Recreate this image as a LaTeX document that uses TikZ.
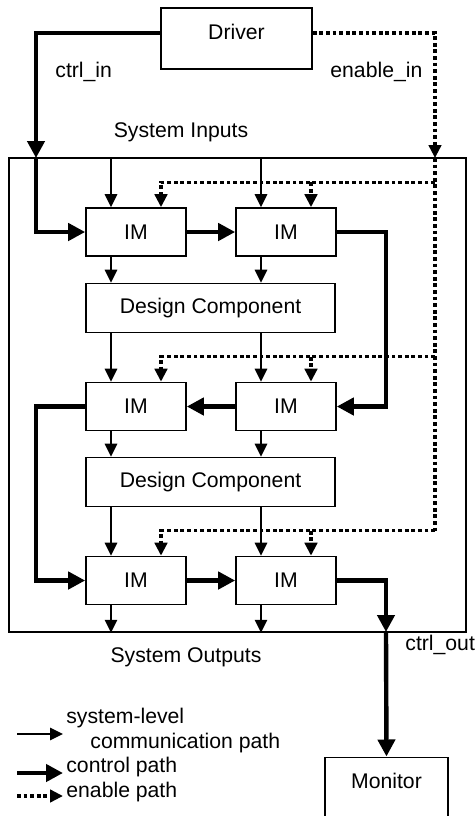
\documentclass[tikz,border=0pt]{standalone}
\usepackage{fontspec}
\setmainfont{Liberation Sans}
\usetikzlibrary{arrows.meta,calc}
\begin{document}
\begin{tikzpicture}[x=0.5pt,y=-0.5pt,
  font=\fontsize{10.6pt}{12.7pt}\selectfont,
  box/.style={draw, line width=0.8pt, inner sep=0pt},
  bigbox/.style={box, text height=15.5pt, text depth=15pt, inner ysep=0pt},
  imbox/.style={box, minimum width=50pt, minimum height=24pt},
  dcbox/.style={box, minimum width=124.5pt, minimum height=24.5pt},
  thinarr/.style={line width=0.8pt, -{Triangle[length=6.5pt,width=6.2pt]}},
  ctrlarr/.style={line width=2.2pt, -{Triangle[length=8.5pt,width=8.5pt]}},
  dotline/.style={line width=1.7pt, dash pattern=on 1.9pt off 1.4pt},
  enabarr/.style={dotline, -{Triangle[length=6.5pt,width=6.2pt]}},
  lbl/.style={inner sep=0pt}]
\useasboundingbox (0,0) rectangle (476,816);

% boxes
\node[bigbox, minimum width=75.5pt] (Driver) at (236.5,38.5) {Driver};
\node[box, minimum width=228.5pt, minimum height=237pt] (sys) at (237.5,395) {};
\node[imbox] (IM11) at (136,232) {IM};
\node[imbox] (IM12) at (286,232) {IM};
\node[dcbox] (DC1) at (210.5,308) {Design Component};
\node[imbox] (IM21) at (136,406.5) {IM};
\node[imbox] (IM22) at (286,406.5) {IM};
\node[dcbox] (DC2) at (210.5,482) {Design Component};
\node[imbox] (IM31) at (136,580.5) {IM};
\node[imbox] (IM32) at (286,580.5) {IM};
\node[bigbox, minimum width=61.5pt, anchor=north] (Monitor) at (386.5,756.5) {Monitor};

% labels
\node[lbl, anchor=base west] (lcin) at (55,77) {ctrl\_in};
\node[lbl, anchor=base west] (lein) at (330,77) {enable\_in};
\node[lbl, anchor=base] (lsin) at (181,137.5) {System Inputs};
\node[lbl, anchor=base] (lsout) at (186,662) {System Outputs};
\node[lbl, anchor=base west] (lcout) at (405,650) {ctrl\_out};

% helper coordinates
\coordinate (lx) at (36,0);
\coordinate (rx) at (386,0);
\coordinate (tx) at (435,0);
\coordinate (cin) at (36,158);
\coordinate (ein) at (435,158);
\coordinate (cout) at (386,632);

% system-level communication paths
\foreach \col in {1,2}{
  \coordinate (c) at ([xshift=-12.5pt]IM1\col.north);
  \draw[thinarr] (c |- sys.north) -- (c |- IM1\col.north);
  \draw[thinarr] (c |- IM1\col.south) -- (c |- DC1.north);
  \draw[thinarr] (c |- DC1.south) -- (c |- IM2\col.north);
  \draw[thinarr] (c |- IM2\col.south) -- (c |- DC2.north);
  \draw[thinarr] (c |- DC2.south) -- (c |- IM3\col.north);
  \draw[thinarr] (c |- IM3\col.south) -- (c |- sys.south);
}

% control path
\draw[ctrlarr] ([yshift=2.75pt]Driver.west) -| (cin);
\draw[ctrlarr] (cin) |- (IM11.west);
\draw[ctrlarr] (IM11.east) -- (IM12.west);
\draw[ctrlarr] (IM12.east) -- (IM12.east -| rx) -- (IM22.east -| rx) -- (IM22.east);
\draw[ctrlarr] (IM22.west) -- (IM21.east);
\draw[ctrlarr] (IM21.west) -- (IM21.west -| lx) -- (IM31.west -| lx) -- (IM31.west);
\draw[ctrlarr] (IM31.east) -- (IM32.west);
\draw[ctrlarr] (IM32.east) -| (cout);
\draw[ctrlarr] (cout) -- (Monitor.north);

% enable path
\draw[enabarr] ([yshift=2.75pt]Driver.east) -| (ein);
\coordinate (e11) at ([xshift=12.5pt]IM11.north);
\coordinate (e12) at ([xshift=12.5pt]IM12.north);
\coordinate (e21) at ([xshift=12.5pt]IM21.north);
\coordinate (e22) at ([xshift=12.5pt]IM22.north);
\coordinate (e31) at ([xshift=12.5pt]IM31.north);
\coordinate (e32) at ([xshift=12.5pt]IM32.north);
\coordinate (h1) at ([yshift=12.5pt]e11);
\coordinate (h2) at ([yshift=12.5pt]e21);
\coordinate (h3) at ([yshift=12.5pt]e31);
\draw[dotline] (ein) -- (tx |- h3);
\draw[enabarr] (tx |- h1) -- (h1) -- (e11);
\draw[enabarr] (e12 |- h1) -- (e12);
\draw[enabarr] (tx |- h2) -- (h2) -- (e21);
\draw[enabarr] (e22 |- h2) -- (e22);
\draw[enabarr] (tx |- h3) -- (h3) -- (e31);
\draw[enabarr] (e32 |- h3) -- (e32);

% legend
\coordinate (la1) at (17,734); \coordinate (lb1) at (63,734);
\coordinate (la2) at (17,773); \coordinate (lb2) at (63,773);
\coordinate (la3) at (17,796); \coordinate (lb3) at (63,796);
\draw[thinarr] (la1) -- (lb1);
\draw[ctrlarr] (la2) -- (lb2);
\draw[enabarr] (la3) -- (lb3);
\node[lbl, anchor=base west] (leg1) at (66,723) {system-level};
\node[lbl, anchor=base west] (leg1b) at (90,748) {communication path};
\node[lbl, anchor=base west] (leg2) at (66,772) {control path};
\node[lbl, anchor=base west] (leg3) at (66,797) {enable path};
\end{tikzpicture}
\end{document}
